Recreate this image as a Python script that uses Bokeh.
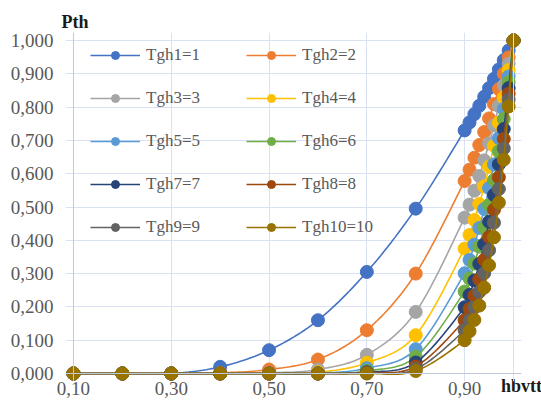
import numpy as np
from bokeh.plotting import figure
from bokeh.models import (Range1d, FixedTicker, CustomJSTickFormatter, Legend,
                          LegendItem, Span)
from bokeh.embed import file_html
from bokeh.resources import INLINE

# ---------------- data ----------------
hbvtt = [0.10, 0.20, 0.30, 0.40, 0.50, 0.60, 0.70, 0.80, 0.90,
         0.91, 0.92, 0.93, 0.94, 0.95, 0.96, 0.97, 0.98, 0.99, 1.00]

tgh1 = [0, 0, 0, 0.020, 0.070, 0.160, 0.305, 0.495, 0.730,
        0.754, 0.779, 0.804, 0.831, 0.857, 0.885, 0.913, 0.941, 0.970, 1.0]
tgh2 = [0, 0, 0, 0.002, 0.012, 0.042, 0.130, 0.300, 0.578,
        0.612, 0.648, 0.686, 0.725, 0.766, 0.809, 0.854, 0.900, 0.949, 1.0]
tgh3 = [0, 0, 0, 0, 0.002, 0.012, 0.056, 0.185, 0.468,
        0.507, 0.549, 0.593, 0.640, 0.691, 0.745, 0.803, 0.865, 0.930, 1.0]
tgh4 = [0, 0, 0, 0, 0, 0.004, 0.032, 0.115, 0.375,
        0.416, 0.461, 0.509, 0.562, 0.621, 0.684, 0.753, 0.829, 0.911, 1.0]
tgh5 = [0, 0, 0, 0, 0, 0.001, 0.016, 0.073, 0.301,
        0.341, 0.387, 0.437, 0.494, 0.557, 0.628, 0.707, 0.794, 0.892, 1.0]
tgh6 = [0, 0, 0, 0, 0, 0, 0.008, 0.050, 0.246,
        0.285, 0.330, 0.381, 0.439, 0.506, 0.581, 0.667, 0.764, 0.875, 1.0]
tgh7 = [0, 0, 0, 0, 0, 0, 0.004, 0.033, 0.199,
        0.236, 0.279, 0.329, 0.388, 0.456, 0.536, 0.628, 0.734, 0.857, 1.0]
tgh8 = [0, 0, 0, 0, 0, 0, 0.002, 0.021, 0.160,
        0.194, 0.234, 0.283, 0.341, 0.410, 0.492, 0.589, 0.704, 0.840, 1.0]
tgh9 = [0, 0, 0, 0, 0, 0, 0.001, 0.013, 0.130,
        0.160, 0.198, 0.245, 0.301, 0.370, 0.453, 0.554, 0.676, 0.823, 1.0]
tgh10 = [0, 0, 0, 0, 0, 0, 0, 0.0075, 0.100,
         0.127, 0.161, 0.204, 0.258, 0.325, 0.409, 0.513, 0.642, 0.802, 1.0]

series_names = ["Tgh1=1", "Tgh2=2", "Tgh3=3", "Tgh4=4", "Tgh5=5",
                "Tgh6=6", "Tgh7=7", "Tgh8=8", "Tgh9=9", "Tgh10=10"]
series_values = [tgh1, tgh2, tgh3, tgh4, tgh5, tgh6, tgh7, tgh8, tgh9, tgh10]
colors = ["#4472C4", "#ED7D31", "#A5A5A5", "#FFC000", "#5B9BD5",
          "#70AD47", "#264478", "#9E480E", "#636363", "#997300"]

x_ticks = [0.10, 0.30, 0.50, 0.70, 0.90]
y_ticks = [0.0, 0.1, 0.2, 0.3, 0.4, 0.5, 0.6, 0.7, 0.8, 0.9, 1.0]


def smooth(xs, ys, n=14):
    """Excel-like smoothed path (cubic Bezier through the data points)."""
    X = np.asarray(xs, float)
    Y = np.asarray(ys, float)
    t = np.linspace(0, 1, n + 1)[1:]
    ox, oy = [X[0]], [Y[0]]
    m = len(X)
    for i in range(m - 1):
        x0, y0, x3, y3 = X[i], Y[i], X[i + 1], Y[i + 1]
        xm, ym = (X[i - 1], Y[i - 1]) if i > 0 else (x0, y0)
        xp, yp = (X[i + 2], Y[i + 2]) if i + 2 < m else (x3, y3)
        c1x, c1y = x0 + (x3 - xm) / 6, y0 + (y3 - ym) / 6
        c2x, c2y = x3 - (xp - x0) / 6, y3 - (yp - y0) / 6
        a, b, c, d = (1 - t) ** 3, 3 * (1 - t) ** 2 * t, 3 * (1 - t) * t ** 2, t ** 3
        ox.extend(a * x0 + b * c1x + c * c2x + d * x3)
        oy.extend(a * y0 + b * c1y + c * c2y + d * y3)
    return ox, oy


# ---------------- figure ----------------
px_x = 490.0
px_y = 333.0
p = figure(width=541, height=410, output_backend="svg", toolbar_location=None,
           x_range=Range1d(0.10 - 8 / px_x, 1.0 + 8 / px_x),
           y_range=Range1d(0.0 - 8 / px_y, 1.0 + 8 / px_y),
           min_border_left=65, min_border_right=20,
           min_border_top=32, min_border_bottom=29,
           title="Pth")
p.title.align = "left"
p.title.offset = -4
p.title.standoff = 2
p.title.text_font = "Liberation Serif"
p.title.text_font_style = "bold"
p.title.text_font_size = "18px"
p.title.text_color = "#1a1a1a"
p.outline_line_color = None
p.background_fill_color = "white"

grid_color = "#D9E1F2"
axis_color = "#BFC9DA"

p.xgrid.ticker = FixedTicker(ticks=x_ticks)
p.ygrid.ticker = FixedTicker(ticks=y_ticks)
p.xgrid.grid_line_color = grid_color
p.ygrid.grid_line_color = grid_color
p.add_layout(Span(location=1.0, dimension="height", line_color=grid_color, line_width=1))
# axis lines at hbvtt = 0,10 and Pth = 0
p.add_layout(Span(location=0.10, dimension="height", line_color=axis_color, line_width=1))
p.add_layout(Span(location=0.0, dimension="width", line_color=axis_color, line_width=1))

p.xaxis.ticker = FixedTicker(ticks=x_ticks)
p.yaxis.ticker = FixedTicker(ticks=y_ticks)
p.xaxis.formatter = CustomJSTickFormatter(code="return tick.toFixed(2).replace('.', ',');")
p.yaxis.formatter = CustomJSTickFormatter(code="return tick.toFixed(3).replace('.', ',');")
for ax in (p.xaxis, p.yaxis):
    ax.axis_line_color = None
    ax.major_tick_line_color = None
    ax.minor_tick_line_color = None
    ax.major_tick_out = 0
    ax.major_tick_in = 0
    ax.minor_tick_out = 0
    ax.major_label_text_font = "Liberation Serif"
    ax.major_label_text_font_size = "19px"
    ax.major_label_text_color = "#595959"
p.xaxis.major_label_standoff = 0
p.yaxis.major_label_standoff = 12

p.xaxis.axis_label = "hbvtt"
p.xaxis.axis_label_align = "end"
p.xaxis.axis_label_standoff = -22
p.xaxis.axis_label_text_font = "Liberation Serif"
p.xaxis.axis_label_text_font_style = "bold"
p.xaxis.axis_label_text_font_size = "18px"
p.xaxis.axis_label_text_color = "#1a1a1a"

items = []
for name, vals, col in zip(series_names, series_values, colors):
    sx, sy = smooth(hbvtt, vals)
    ln = p.line(sx, sy, line_color=col, line_width=1.6)
    sc = p.scatter(hbvtt, vals, size=13, fill_color=col, line_color=col, marker="circle")
    items.append(LegendItem(label=name, renderers=[ln, sc]))

common = dict(glyph_width=50, glyph_height=20, label_height=20, spacing=23,
              padding=0, margin=0, label_standoff=6, border_line_color=None,
              background_fill_alpha=0, label_text_font="Liberation Serif",
              label_text_font_size="17px", label_text_color="#595959",
              orientation="vertical")
leg1 = Legend(items=items[0::2], location=(25, 144), **common)
leg2 = Legend(items=items[1::2], location=(181, 144), **common)
p.add_layout(leg1)
p.add_layout(leg2)

open("out.html", "w").write(file_html(p, INLINE))
